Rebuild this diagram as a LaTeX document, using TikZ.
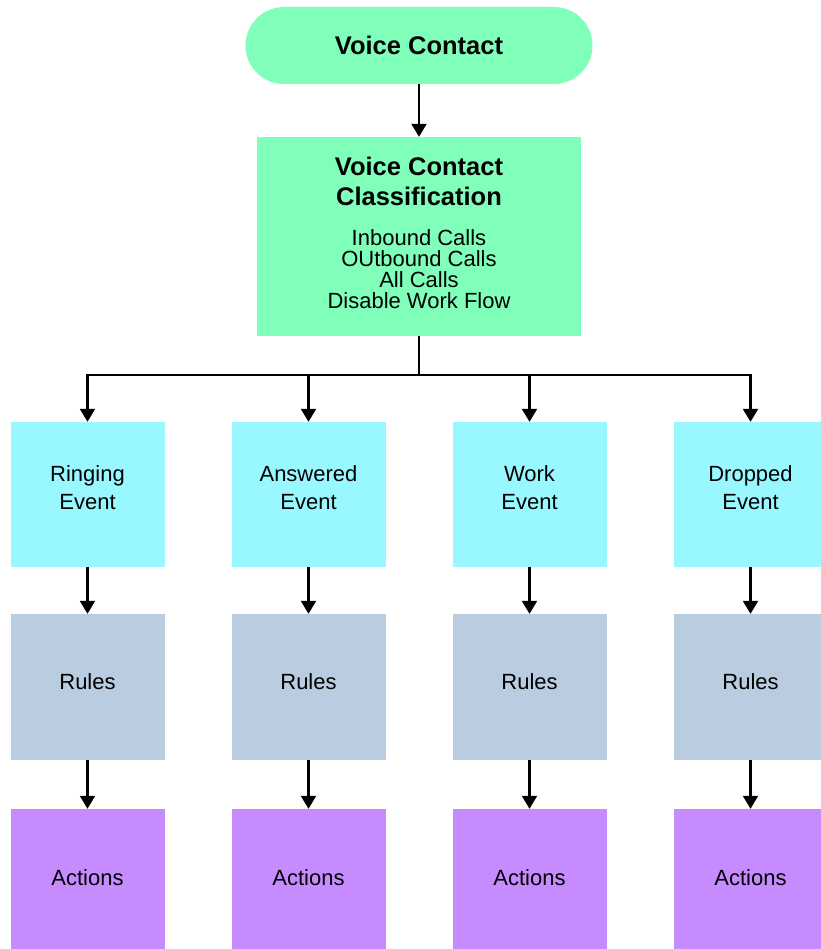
\documentclass[tikz,border=0pt]{standalone}
\usepackage{fontspec}
\setmainfont{Liberation Sans}
\usepackage{tikz}
\usetikzlibrary{positioning,arrows.meta}
\usetikzlibrary{trees}

\definecolor{mint}{RGB}{128,255,186}
\definecolor{skyc}{RGB}{153,248,255}
\definecolor{slate}{RGB}{186,205,224}
\definecolor{lilac}{RGB}{198,140,255}

\tikzset{
	box/.style={rectangle, draw=none, align=center, minimum width=154pt, minimum height=146pt,
			font=\fontsize{22}{21}\selectfont},
	startbox/.style={box, fill=mint, rounded corners=38.5pt, minimum width=347pt, minimum height=77pt,
			font=\bfseries\fontsize{25.5}{30}\selectfont},
	classbox/.style={box, fill=mint, minimum width=324pt, minimum height=199pt, text depth=8pt},
	eventbox/.style={box, fill=skyc, minimum height=145pt, font=\fontsize{22}{28}\selectfont, text depth=14pt},
	rulebox/.style={box, fill=slate, text depth=11pt},
	actbox/.style={box, fill=lilac, text depth=9pt}
}

\begin{document}
\begin{tikzpicture}[x=1pt,y=1pt,
			edge from parent/.style={draw, line width=2.2pt, -{Triangle[width=15pt,length=13pt]}},
			level 1/.style={level distance=191pt},
			level 2/.style={level distance=258pt, sibling distance=221pt,
					edge from parent path={(\tikzparentnode.south) -- ++(0,-39pt) -| (\tikzchildnode.north)}},
			level 3/.style={level distance=192.5pt,
					edge from parent path={(\tikzparentnode.south) -- (\tikzchildnode.north)}},
			level 4/.style={level distance=195pt}]
		\useasboundingbox (0,0) rectangle (820,-949);
		\node[startbox] (vc) at (419,-45.5) {Voice Contact}
		child {node[classbox] (cls) {\textbf{\fontsize{25.5}{30}\selectfont Voice Contact}\\[9pt]
						\textbf{\fontsize{25.5}{30}\selectfont Classification}\\[19pt]
						Inbound Calls\\OUtbound Calls\\All Calls\\Disable Work Flow}
				child {node[eventbox] (ring) {Ringing\\Event}
						child {node[rulebox] (ring-r) {Rules}
								child {node[actbox] (ring-a) {Actions}}
							}
					}
				child {node[eventbox] (answ) {Answered\\Event}
						child {node[rulebox] (answ-r) {Rules}
								child {node[actbox] (answ-a) {Actions}}
							}
					}
				child {node[eventbox] (work) {Work\\Event}
						child {node[rulebox] (work-r) {Rules}
								child {node[actbox] (work-a) {Actions}}
							}
					}
				child {node[eventbox] (drop) {Dropped\\Event}
						child {node[rulebox] (drop-r) {Rules}
								child {node[actbox] (drop-a) {Actions}}
							}
					}
			};
	\end{tikzpicture}
\end{document}
